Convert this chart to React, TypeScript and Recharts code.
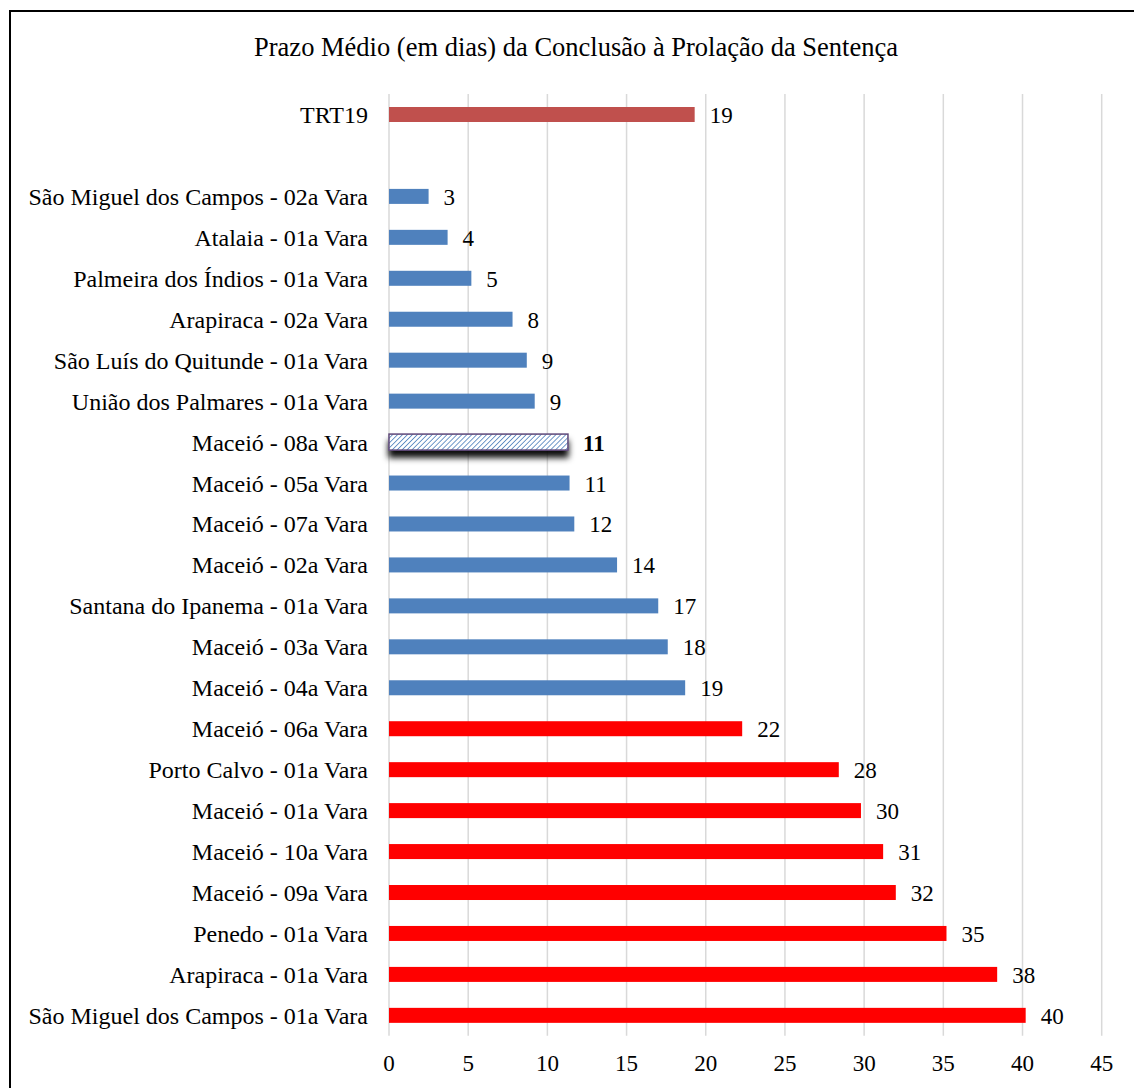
import React from 'react';
import { BarChart, Bar, XAxis, YAxis, CartesianGrid, LabelList, Cell } from 'recharts';

const title = 'Prazo Médio (em dias) da Conclusão à Prolação da Sentença';

const categories = [
  'TRT19',
  ' ',
  'São Miguel dos Campos - 02a Vara',
  'Atalaia - 01a Vara',
  'Palmeira dos Índios - 01a Vara',
  'Arapiraca - 02a Vara',
  'São Luís do Quitunde - 01a Vara',
  'União dos Palmares - 01a Vara',
  'Maceió - 08a Vara',
  'Maceió - 05a Vara',
  'Maceió - 07a Vara',
  'Maceió - 02a Vara',
  'Santana do Ipanema - 01a Vara',
  'Maceió - 03a Vara',
  'Maceió - 04a Vara',
  'Maceió - 06a Vara',
  'Porto Calvo - 01a Vara',
  'Maceió - 01a Vara',
  'Maceió - 10a Vara',
  'Maceió - 09a Vara',
  'Penedo - 01a Vara',
  'Arapiraca - 01a Vara',
  'São Miguel dos Campos - 01a Vara',
];

const values: (number | null)[] = [
  19.3, null, 2.5, 3.7, 5.2, 7.8, 8.7, 9.2, 11.3, 11.4, 11.7, 14.4, 17.0, 17.6, 18.7,
  22.3, 28.4, 29.8, 31.2, 32.0, 35.2, 38.4, 40.2,
];

const xTicks = [0, 5, 10, 15, 20, 25, 30, 35, 40, 45];

const referenceName = 'TRT19';
const highlightName = 'Maceió - 08a Vara';

const data = categories.map((name, i) => ({ name, value: values[i] }));
const referenceValue = values[0] as number;

const FONT = '"Liberation Serif", "Times New Roman", serif';

function colorFor(name: string, v: number | null) {
  if (name === referenceName) return '#C0504D';
  if (v == null) return 'none';
  return v > referenceValue ? '#FF0000' : '#4F81BD';
}

const BarShape = (props: any) => {
  const { x, y, width, height, payload, fill } = props;
  if (payload == null || payload.value == null) return null;
  if (payload.name === highlightName) {
    return (
      <g>
        <defs>
          <pattern id="hatch" patternUnits="userSpaceOnUse" width="3.5" height="3.5" patternTransform="rotate(45)">
            <rect width="3.5" height="3.5" fill="#FFFFFF" />
            <line x1="0" y1="0" x2="0" y2="3.5" stroke="#4F81BD" strokeWidth="1.6" />
          </pattern>
          <filter id="shadow" x="-10%" y="-50%" width="120%" height="250%">
            <feDropShadow dx="0" dy="7" stdDeviation="3" floodColor="#000000" floodOpacity="0.95" />
          </filter>
        </defs>
        <rect x={x} y={y - 0.5} width={width} height={height + 1} fill="url(#hatch)" stroke="#5F497A" strokeWidth={1.5} filter="url(#shadow)" />
      </g>
    );
  }
  return <rect x={x} y={y} width={width} height={height} fill={fill} />;
};

const ValueLabel = (props: any) => {
  const { x, y, width, height, value } = props;
  const row = data.find((d) => d.name === value);
  if (!row || row.value == null) return null;
  const bold = row.name === highlightName;
  return (
    <text
      x={x + width + 15}
      y={y + height / 2 + 1}
      dominantBaseline="central"
      fontFamily={FONT}
      fontSize={23}
      fontWeight={bold ? 'bold' : 'normal'}
      fill="#000000"
    >
      {Math.round(row.value)}
    </text>
  );
};

export default function App() {
  return (
    <div style={{ position: 'absolute', left: 0, top: 0, width: 1134, height: 1088, background: '#FFFFFF', overflow: 'hidden' }}>
      <div
        style={{
          position: 'absolute',
          left: 9,
          top: 10,
          width: 1125,
          height: 1078,
          borderLeft: '2px solid #000',
          borderTop: '2px solid #000',
          boxSizing: 'border-box',
        }}
      />
      <div
        style={{
          position: 'absolute',
          left: 0,
          width: 1152,
          top: 30,
          textAlign: 'center',
          fontFamily: FONT,
          fontSize: 26.5,
          color: '#000',
          lineHeight: '34px',
        }}
      >
        {title}
      </div>
      <div style={{ position: 'absolute', left: 0, top: 0 }}>
        <BarChart
          width={1134}
          height={1088}
          data={data}
          layout="vertical"
          margin={{ top: 94, right: 32.3, bottom: 22.2, left: 0 }}
        >
          <CartesianGrid horizontal={false} vertical stroke="#D9D9D9" strokeWidth={1.5} />
          <XAxis
            type="number"
            domain={[0, 45]}
            ticks={xTicks}
            axisLine={false}
            tickLine={false}
            tickSize={0}
            tickMargin={19}
            height={30}
            interval={0}
            tick={{ fontFamily: FONT, fontSize: 23, fill: '#000' }}
          />
          <YAxis
            type="category"
            dataKey="name"
            width={389}
            axisLine={false}
            tickLine={false}
            tickSize={0}
            tickMargin={21}
            interval={0}
            tick={{ fontFamily: FONT, fontSize: 24, fill: '#000' }}
          />
          <Bar dataKey="value" barSize={15} isAnimationActive={false} shape={<BarShape />}>
            {data.map((d, i) => (
              <Cell key={i} fill={colorFor(d.name, d.value)} />
            ))}
            <LabelList dataKey="name" content={<ValueLabel />} />
          </Bar>
        </BarChart>
      </div>
    </div>
  );
}
